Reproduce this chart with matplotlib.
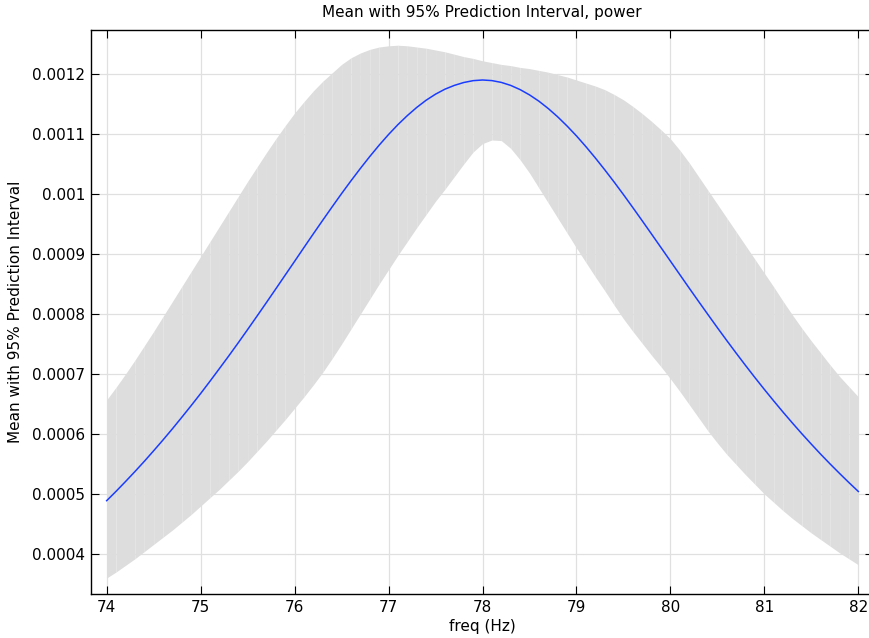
import numpy as np
import matplotlib
matplotlib.use("Agg")
import matplotlib.pyplot as plt
from matplotlib.ticker import FuncFormatter

# frequency grid (Hz)
freq = [74.0, 74.1, 74.2, 74.3, 74.4, 74.5, 74.6, 74.7, 74.8, 74.9,
        75.0, 75.1, 75.2, 75.3, 75.4, 75.5, 75.6, 75.7, 75.8, 75.9,
        76.0, 76.1, 76.2, 76.3, 76.4, 76.5, 76.6, 76.7, 76.8, 76.9,
        77.0, 77.1, 77.2, 77.3, 77.4, 77.5, 77.6, 77.7, 77.8, 77.9,
        78.0, 78.1, 78.2, 78.3, 78.4, 78.5, 78.6, 78.7, 78.8, 78.9,
        79.0, 79.1, 79.2, 79.3, 79.4, 79.5, 79.6, 79.7, 79.8, 79.9,
        80.0, 80.1, 80.2, 80.3, 80.4, 80.5, 80.6, 80.7, 80.8, 80.9,
        81.0, 81.1, 81.2, 81.3, 81.4, 81.5, 81.6, 81.7, 81.8, 81.9,
        82.0]

# values in units of 1e-4
mean_e4 = [4.889, 5.045, 5.207, 5.373, 5.544, 5.721, 5.902, 6.088, 6.280, 6.475,
           6.675, 6.881, 7.091, 7.303, 7.520, 7.741, 7.965, 8.191, 8.419, 8.649,
           8.878, 9.109, 9.338, 9.564, 9.787, 10.007, 10.220, 10.426, 10.625, 10.814,
           10.992, 11.157, 11.307, 11.443, 11.563, 11.664, 11.747, 11.810, 11.858, 11.889,
           11.900, 11.890, 11.860, 11.810, 11.740, 11.652, 11.547, 11.424, 11.286, 11.133,
           10.968, 10.790, 10.602, 10.405, 10.201, 9.990, 9.773, 9.553, 9.330, 9.106,
           8.881, 8.656, 8.431, 8.209, 7.989, 7.771, 7.557, 7.347, 7.141, 6.939,
           6.742, 6.550, 6.362, 6.180, 6.002, 5.830, 5.662, 5.500, 5.343, 5.190,
           5.042]
upper_e4 = [6.57, 6.78, 7.00, 7.23, 7.47, 7.71, 7.96, 8.21, 8.46, 8.71,
            8.96, 9.21, 9.46, 9.71, 9.96, 10.21, 10.45, 10.69, 10.92, 11.14,
            11.35, 11.54, 11.72, 11.88, 12.02, 12.16, 12.27, 12.35, 12.41, 12.45,
            12.47, 12.48, 12.47, 12.45, 12.43, 12.40, 12.37, 12.33, 12.29, 12.26,
            12.22, 12.19, 12.16, 12.14, 12.11, 12.09, 12.06, 12.03, 11.99, 11.95,
            11.90, 11.85, 11.80, 11.74, 11.66, 11.57, 11.46, 11.34, 11.21, 11.07,
            10.92, 10.73, 10.52, 10.29, 10.06, 9.83, 9.60, 9.37, 9.14, 8.91,
            8.68, 8.45, 8.21, 7.98, 7.76, 7.55, 7.35, 7.15, 6.96, 6.79,
            6.62]
lower_e4 = [3.60, 3.70, 3.81, 3.92, 4.04, 4.16, 4.28, 4.40, 4.53, 4.66,
            4.80, 4.94, 5.08, 5.23, 5.38, 5.54, 5.71, 5.88, 6.06, 6.24,
            6.43, 6.62, 6.82, 7.03, 7.26, 7.50, 7.75, 8.00, 8.25, 8.50,
            8.74, 8.98, 9.21, 9.44, 9.66, 9.88, 10.08, 10.29, 10.50, 10.70,
            10.84, 10.90, 10.89, 10.76, 10.57, 10.35, 10.10, 9.85, 9.60, 9.35,
            9.10, 8.86, 8.62, 8.39, 8.15, 7.92, 7.71, 7.51, 7.31, 7.12,
            6.92, 6.71, 6.49, 6.27, 6.05, 5.85, 5.66, 5.49, 5.32, 5.16,
            5.00, 4.86, 4.72, 4.59, 4.47, 4.35, 4.24, 4.13, 4.02, 3.92,
            3.82]

xticks = [74, 75, 76, 77, 78, 79, 80, 81, 82]
yticks_e4 = [4, 5, 6, 7, 8, 9, 10, 11, 12]

title = "Mean with 95% Prediction Interval, power"
xlabel = "freq (Hz)"
ylabel = "Mean with 95% Prediction Interval"

SCALE = 1e-4
x = np.array(freq)
mean = np.array(mean_e4) * SCALE
upper = np.array(upper_e4) * SCALE
lower = np.array(lower_e4) * SCALE

plt.rcParams['font.family'] = ['DejaVu Sans']
fig = plt.figure(figsize=(8.69, 6.38), dpi=100)
ax = fig.add_axes([91 / 869, 1 - 594 / 638, (873 - 91) / 869, (594 - 30) / 638])

ax.set_axisbelow(True)
ax.grid(True, color='#e0e0e0', linewidth=0.9, zorder=0)
# band drawn as adjacent strips (gives the faint vertical seams of the original)
for i in range(len(x) - 1):
    ax.fill_between(x[i:i + 2], lower[i:i + 2], upper[i:i + 2],
                    color='#dddddd', linewidth=0, zorder=1)
ax.plot(x, mean, color='#1a3cff', linewidth=1.1, zorder=3)

ax.set_xlim(73.833, 82.156)
ax.set_ylim(3.3333 * SCALE, 12.7333 * SCALE)
ax.set_xticks(xticks)
ax.set_yticks([v * SCALE for v in yticks_e4])
ax.yaxis.set_major_formatter(FuncFormatter(lambda v, p: f"{v:.4f}".rstrip('0')))

ax.tick_params(direction='in', length=5.5, width=0.8, labelsize=11, pad=4,
               top=True, right=True, colors='black')
for s in ax.spines.values():
    s.set_linewidth(1.0)
    s.set_color('black')

ax.set_title(title, fontsize=11, pad=9.5)
ax.set_xlabel(xlabel, fontsize=11, labelpad=3.5)
ax.set_ylabel(ylabel, fontsize=11, labelpad=7)

fig.savefig("out.png", dpi=100)
